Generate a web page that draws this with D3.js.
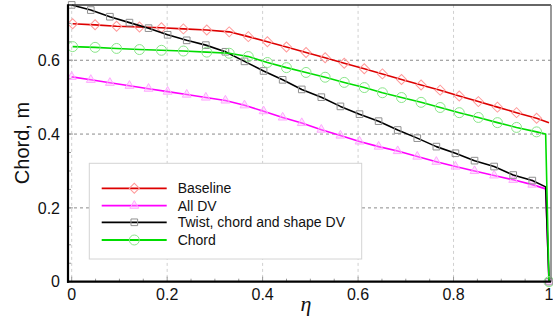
<!DOCTYPE html>
<html>
<head>
<meta charset="utf-8">
<script src="https://cdn.jsdelivr.net/npm/d3@7"></script>
<style>
  html, body { margin: 0; padding: 0; background: #fff; }
  svg { display: block; font-family: "Liberation Sans", Arial, sans-serif; }
</style>
</head>
<body>
<div id="chart"></div>
<script>
// spanwise stations (eta) for baseline and chord-only runs
const etaBase = [0.002, 0.049, 0.094, 0.142, 0.188, 0.234, 0.283, 0.330, 0.370, 0.410, 0.450, 0.491,
  0.531, 0.571, 0.613, 0.651, 0.691, 0.732, 0.772, 0.812, 0.852, 0.892, 0.932, 0.974];
const baseline = [0.699, 0.696, 0.692, 0.690, 0.688, 0.685, 0.682, 0.677, 0.664, 0.650, 0.636, 0.621,
  0.607, 0.592, 0.577, 0.563, 0.548, 0.533, 0.519, 0.503, 0.488, 0.473, 0.458, 0.443];
const chord = [0.637, 0.635, 0.632, 0.629, 0.627, 0.625, 0.622, 0.619, 0.610, 0.594, 0.580, 0.567,
  0.554, 0.540, 0.526, 0.512, 0.499, 0.486, 0.472, 0.458, 0.445, 0.431, 0.418, 0.406];

// stations for the optimised runs
const etaOpt = [0.000, 0.040, 0.080, 0.121, 0.161, 0.201, 0.241, 0.281, 0.322, 0.362, 0.402, 0.442,
  0.482, 0.523, 0.563, 0.603, 0.643, 0.683, 0.724, 0.764, 0.804, 0.844, 0.885, 0.925, 0.965];
const allDV = [0.555, 0.547, 0.539, 0.531, 0.523, 0.515, 0.507, 0.499, 0.491, 0.478, 0.462, 0.445,
  0.430, 0.412, 0.396, 0.380, 0.366, 0.354, 0.339, 0.325, 0.312, 0.300, 0.288, 0.276, 0.263];
const twist = [0.750, 0.736, 0.718, 0.702, 0.687, 0.669, 0.654, 0.641, 0.623, 0.597, 0.571, 0.547,
  0.521, 0.500, 0.475, 0.454, 0.435, 0.411, 0.389, 0.366, 0.348, 0.328, 0.312, 0.289, 0.274];

// tip points
const tipEta = [0.993, 1.0];
const baselineTip = [0.431];
const chordTip = [0.400, 0];
const allDVTip = [0.2515, 0];
const twistTip = [0.257, 0];

const xTicks = [0, 0.2, 0.4, 0.6, 0.8, 1];
const yTicks = [0, 0.2, 0.4, 0.6];

const W = 553, H = 322;
const x = d3.scaleLinear().domain([0, 1]).range([71.7, 549]);
const y = d3.scaleLinear().domain([0, 0.75]).range([281.7, 4.9]);
const pLeft = 68, pRight = 551, pTop = 4.9, pBottom = 281.7;

const svg = d3.select('#chart').append('svg').attr('width', W).attr('height', H);

// grid
svg.append('g').selectAll('line')
  .data(xTicks.slice(0, 5))
  .join('line')
  .attr('x1', d => x(d)).attr('x2', d => x(d))
  .attr('y1', pTop).attr('y2', pBottom)
  .attr('stroke', '#d0d0d0').attr('stroke-width', 1).attr('stroke-dasharray', '3,3');
svg.append('g').selectAll('line')
  .data(yTicks.slice(1))
  .join('line')
  .attr('x1', pLeft).attr('x2', pRight)
  .attr('y1', d => y(d)).attr('y2', d => y(d))
  .attr('stroke', '#8a8a8a').attr('stroke-width', 1).attr('stroke-dasharray', '3,3');

// minor ticks (inside)
const isMajor = d => Math.abs(d * 5 - Math.round(d * 5)) < 1e-6;
const minorX = d3.range(0, 21).map(i => i * 0.05);
svg.append('g').selectAll('line')
  .data(minorX)
  .join('line')
  .attr('x1', d => x(d)).attr('x2', d => x(d))
  .attr('y1', pBottom).attr('y2', d => pBottom - (isMajor(d) ? 5 : 3))
  .attr('stroke', '#999').attr('stroke-width', 1);
const minorY = d3.range(0, 16).map(i => i * 0.05);
svg.append('g').selectAll('line')
  .data(minorY)
  .join('line')
  .attr('x1', pLeft).attr('x2', d => pLeft + (isMajor(d) ? 5 : 3))
  .attr('y1', d => y(d)).attr('y2', d => y(d))
  .attr('stroke', '#999').attr('stroke-width', 1);

// series
const series = [
  { name: 'Baseline', line: '#dd0000', mark: '#ff9a9a', fill: 'none', shape: 'diamond',
    eta: etaBase, v: baseline, tEta: [1.0], tV: baselineTip, markTip: false },
  { name: 'All DV', line: '#ff00ff', mark: '#ffa8ff', fill: 'rgba(255,180,255,0.35)', shape: 'triangle',
    eta: etaOpt, v: allDV, tEta: tipEta, tV: allDVTip, markTip: true },
  { name: 'Twist, chord and shape DV', line: '#000000', mark: '#909090', fill: 'none', shape: 'square',
    eta: etaOpt, v: twist, tEta: tipEta, tV: twistTip, markTip: true },
  { name: 'Chord', line: '#00dd00', mark: '#8ae68a', fill: 'none', shape: 'circle',
    eta: etaBase, v: chord, tEta: tipEta, tV: chordTip, markTip: true }
];

function symbolPath(shape) {
  if (shape === 'diamond') return d3.symbol(d3.symbolSquare, 50)();
  if (shape === 'triangle') return d3.symbol(d3.symbolTriangle, 34)();
  if (shape === 'square') return d3.symbol(d3.symbolSquare, 44)();
  return d3.symbol(d3.symbolCircle, 78)();
}
function symbolTransform(shape, px, py) {
  return shape === 'diamond' ? `translate(${px},${py}) rotate(45)` : `translate(${px},${py})`;
}

const line = d3.line().x(d => x(d[0])).y(d => y(d[1]));

series.forEach(s => {
  const pts = s.eta.map((e, i) => [e, s.v[i]]);
  const tip = s.tEta.map((e, i) => [e, s.tV[i]]);
  const g = svg.append('g');
  g.append('path')
    .attr('d', line(pts.concat(tip)))
    .attr('fill', 'none').attr('stroke', s.line).attr('stroke-width', 1.6)
    .attr('stroke-linejoin', 'round');
  const marks = s.markTip ? pts.concat([tip[tip.length - 1]]) : pts;
  g.selectAll('path.m')
    .data(marks)
    .join('path')
    .attr('class', 'm')
    .attr('d', symbolPath(s.shape))
    .attr('transform', d => symbolTransform(s.shape, x(d[0]), y(d[1])))
    .attr('fill', s.fill).attr('stroke', s.mark).attr('stroke-width', 1);
});

// frame
svg.append('line').attr('x1', pLeft).attr('x2', pRight).attr('y1', pTop).attr('y2', pTop)
  .attr('stroke', '#333').attr('stroke-width', 1.5);
svg.append('line').attr('x1', pRight).attr('x2', pRight).attr('y1', pTop).attr('y2', pBottom)
  .attr('stroke', '#777').attr('stroke-width', 1.5);
svg.append('line').attr('x1', pLeft).attr('x2', pLeft).attr('y1', pTop - 0.7).attr('y2', pBottom + 1)
  .attr('stroke', '#000').attr('stroke-width', 2.2);
svg.append('line').attr('x1', pLeft - 1).attr('x2', pRight).attr('y1', pBottom).attr('y2', pBottom)
  .attr('stroke', '#000').attr('stroke-width', 2.2);

// tick labels
svg.append('g').selectAll('text')
  .data(xTicks)
  .join('text')
  .attr('x', d => x(d)).attr('y', 300)
  .attr('text-anchor', 'middle').attr('font-size', 16).attr('fill', '#111')
  .text(d => d3.format('~g')(d));
svg.append('g').selectAll('text')
  .data(yTicks)
  .join('text')
  .attr('x', 60).attr('y', d => y(d)).attr('dy', '0.36em')
  .attr('text-anchor', 'end').attr('font-size', 16).attr('fill', '#111')
  .text(d => d3.format('~g')(d));

// axis titles
svg.append('text')
  .attr('transform', 'translate(29,143) rotate(-90)')
  .attr('text-anchor', 'middle').attr('font-size', 20).attr('fill', '#111')
  .text('Chord, m');
svg.append('text')
  .attr('x', 306).attr('y', 311)
  .attr('text-anchor', 'middle').attr('font-size', 22).attr('font-style', 'italic')
  .attr('font-family', '"Liberation Serif", "DejaVu Serif", serif').attr('fill', '#111')
  .text('η');

// legend
const lg = svg.append('g');
lg.append('rect').attr('x', 89.3).attr('y', 163.3).attr('width', 272.4).attr('height', 95.7)
  .attr('fill', '#fff').attr('stroke', '#d4d4d4').attr('stroke-width', 1);
const legY = [188.3, 205.7, 222.3, 240];
series.forEach((s, i) => {
  const ly = legY[i];
  lg.append('line').attr('x1', 101.7).attr('x2', 166.7).attr('y1', ly).attr('y2', ly)
    .attr('stroke', s.line).attr('stroke-width', 1.8);
  lg.append('path').attr('d', symbolPath(s.shape))
    .attr('transform', symbolTransform(s.shape, 134.3, ly))
    .attr('fill', s.fill).attr('stroke', s.mark).attr('stroke-width', 1);
  lg.append('text').attr('x', 177.7).attr('y', ly).attr('dy', '0.36em')
    .attr('font-size', 14).attr('fill', '#111').text(s.name);
});
</script>
</body>
</html>
